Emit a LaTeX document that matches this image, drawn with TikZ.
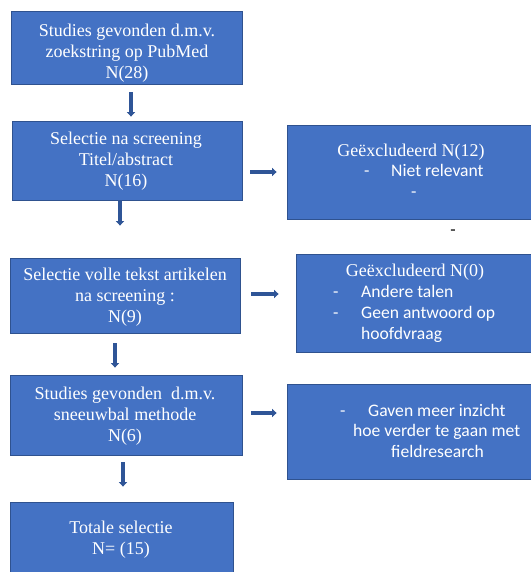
\documentclass[tikz,border=0pt]{standalone}
\usepackage{fontspec}
\setmainfont{Liberation Serif}
\newfontfamily\calib{Carlito}
\usetikzlibrary{arrows.meta}
\definecolor{boxfill}{HTML}{4472C4}
\definecolor{boxedge}{HTML}{2F528F}
\definecolor{arr}{HTML}{2F5597}
\tikzset{
  box/.style={draw=boxedge, line width=0.8pt, fill=boxfill, inner sep=0pt},
  ttext/.style={text=white, font=\fontsize{18}{21}\selectfont, align=center, inner sep=0pt},
  ctext/.style={text=white, font=\calib\fontsize{17.6}{21}\selectfont, inner sep=0pt, anchor=west, text height=12pt, text depth=4pt},
  flow/.style={draw=arr, line width=3.6pt, -{Triangle[length=4.5pt,width=8pt]}},
}
\begin{document}
\begin{tikzpicture}[x=1pt,y=-1pt]
\useasboundingbox (0,0) rectangle (530,572);
% left boxes
\node[box, minimum width=231pt, minimum height=73pt] (b1) at (126.5,47.5) {};
\node[box, minimum width=230pt, minimum height=79pt] (b2) at (127,160.5) {};
\node[box, minimum width=230pt, minimum height=75pt] (b3) at (125,295.5) {};
\node[box, minimum width=232pt, minimum height=80pt] (b4) at (126,415) {};
\node[box, minimum width=223pt, minimum height=80pt] (b5) at (121.5,542) {};
% right boxes
\node[box, minimum width=246pt, minimum height=94pt] (r1) at (410,172) {};
\node[box, minimum width=237pt, minimum height=98pt] (r2) at (414.5,303) {};
\node[box, minimum width=246pt, minimum height=95pt] (r3) at (410,431.5) {};
% left texts
\node[ttext] (t1) at (127,53) {Studies gevonden d.m.v.\\zoekstring op PubMed\\N(28)};
\node[ttext] (t2) at (126,161) {Selectie na screening\\Titel/abstract\\N(16)};
\node[ttext] (t3) at (125,297) {Selectie volle tekst artikelen\\na screening :\\N(9)};
\node[ttext] (t4) at (125,416) {Studies gevonden\ \ d.m.v.\\sneeuwbal methode\\N(6)};
\node[ttext] (t5) at (121,539.5) {Totale selectie\\N= (15)};
% right texts
\node[ttext] (r1a) at (411,152) {Geëxcludeerd N(12)};
\node[ctext] (r1b) at (364,172) {-};
\node[ctext] (r1c) at (391,172) {Niet relevant};
\node[ctext] (r1d) at (411,193) {-};
\node[text=black, font=\calib\fontsize{17.6}{21}\selectfont, inner sep=0pt, text height=12pt, text depth=4pt] (dash) at (453,231) {-};
\node[ttext] (r2a) at (415,272) {Geëxcludeerd N(0)};
\node[ctext] (r2b) at (333,293) {-};
\node[ctext] (r2c) at (361,293) {Andere talen};
\node[ctext] (r2d) at (333,314) {-};
\node[ctext] (r2e) at (361,314) {Geen antwoord op};
\node[ctext] (r2f) at (361,335) {hoofdvraag};
\node[ctext] (r3a) at (340,412) {-};
\node[ctext] (r3b) at (368,412) {Gaven meer inzicht};
\node[ctext] (r3c) at (353,432) {hoe verder te gaan met};
\node[ctext] (r3d) at (391,453) {fieldresearch};
% vertical arrows
\draw[flow, shorten <=8pt, shorten >=4pt] ([xshift=4.5pt]b1.south) -- ([xshift=4.5pt]b1.south |- b2.north);
\draw[flow, shorten <=0pt, shorten >=32pt] ([xshift=-7pt]b2.south) -- ([xshift=-7pt]b2.south |- b3.north);
\draw[flow, shorten <=10pt, shorten >=7pt] ([xshift=-10pt]b3.south) -- ([xshift=-10pt]b3.south |- b4.north);
\draw[flow, shorten <=7pt, shorten >=15pt] ([xshift=-3pt]b4.south) -- ([xshift=-3pt]b4.south |- b5.north);
% horizontal arrows
\draw[flow, shorten <=8pt, shorten >=10pt] (b2.east |- 0,172) -- (r1.west |- 0,172);
\draw[flow, shorten <=11pt, shorten >=17pt] (b3.east |- 0,294) -- (r2.west |- 0,294);
\draw[flow, shorten <=9pt, shorten >=10pt] (b4.east |- 0,413) -- (r3.west |- 0,413);
\end{tikzpicture}
\end{document}
